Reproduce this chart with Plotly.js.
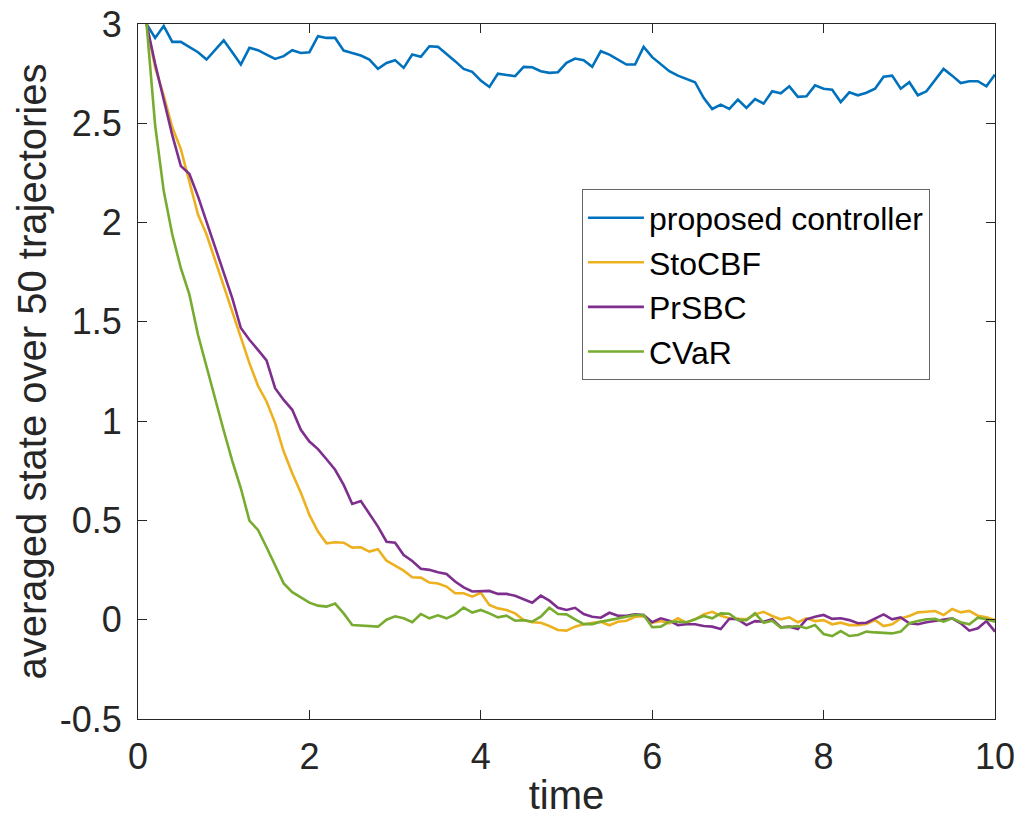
<!DOCTYPE html>
<html>
<head>
<meta charset="utf-8">
<script src="https://cdn.plot.ly/plotly-3.0.1.min.js"></script>
<style>html,body{margin:0;padding:0;background:#fff;}</style>
</head>
<body>
<div id="chart" style="width:1020px;height:817px;"></div>
<script>
// time samples 0.1 .. 10.0
const time = Array.from({length: 100}, (_, i) => Math.round((i + 1)) / 10);

const seriesNames = ["proposed controller", "StoCBF", "PrSBC", "CVaR"];

const proposed = [
  3.00, 2.93, 2.99, 2.91, 2.91, 2.885, 2.858, 2.821, 2.87, 2.918,
  2.858, 2.796, 2.88, 2.868, 2.846, 2.824, 2.838, 2.868, 2.854, 2.858,
  2.939, 2.93, 2.93, 2.866, 2.854, 2.841, 2.821, 2.774, 2.804, 2.818,
  2.779, 2.846, 2.835, 2.888, 2.885, 2.85, 2.813, 2.774, 2.759, 2.715,
  2.683, 2.75, 2.745, 2.737, 2.784, 2.782, 2.762, 2.754, 2.757, 2.804,
  2.826, 2.818, 2.784, 2.863, 2.846, 2.821, 2.796, 2.796, 2.885, 2.833,
  2.796, 2.762, 2.74, 2.725, 2.707, 2.628, 2.572, 2.594, 2.572, 2.619,
  2.577, 2.622, 2.599, 2.661, 2.651, 2.686, 2.633, 2.636, 2.691, 2.674,
  2.669, 2.607, 2.656, 2.641, 2.654, 2.674, 2.734, 2.74, 2.674, 2.707,
  2.641, 2.661, 2.716, 2.774, 2.74, 2.703, 2.712, 2.712, 2.686, 2.745
];

const stoCBF = [
  3.00, 2.78, 2.64, 2.48, 2.37, 2.20, 2.04, 1.94, 1.81, 1.68,
  1.555, 1.418, 1.292, 1.178, 1.099, 0.99, 0.847, 0.738, 0.64, 0.528,
  0.444, 0.385, 0.39, 0.388, 0.363, 0.365, 0.343, 0.355, 0.297, 0.272,
  0.247, 0.214, 0.212, 0.187, 0.182, 0.167, 0.133, 0.133, 0.116, 0.136,
  0.074, 0.057, 0.049, 0.032, -0.002, -0.013, -0.015, -0.032, -0.052, -0.055,
  -0.035, -0.023, -0.018, -0.01, -0.028, -0.01, -0.005, 0.015, 0.018, -0.015,
  -0.007, -0.018, 0.007, -0.015, 0.002, 0.027, 0.04, 0.02, 0.007, 0.005,
  0.002, 0.027, 0.04, 0.019, 0.002, 0.012, -0.013, 0.007, -0.007, -0.002,
  -0.023, -0.015, -0.027, -0.027, -0.022, -0.002, -0.032, -0.023, 0.007, 0.019,
  0.037, 0.04, 0.044, 0.024, 0.054, 0.037, 0.044, 0.02, 0.012, -0.002
];

const prSBC = [
  3.00, 2.80, 2.62, 2.44, 2.285, 2.245, 2.132, 2.006, 1.88, 1.746,
  1.62, 1.469, 1.41, 1.359, 1.306, 1.166, 1.107, 1.057, 0.956, 0.897,
  0.859, 0.808, 0.755, 0.679, 0.583, 0.598, 0.536, 0.469, 0.393, 0.388,
  0.326, 0.296, 0.257, 0.251, 0.239, 0.23, 0.192, 0.163, 0.142, 0.145,
  0.145, 0.13, 0.13, 0.121, 0.104, 0.086, 0.121, 0.096, 0.06, 0.049,
  0.06, 0.029, 0.015, 0.01, 0.035, 0.02, 0.02, 0.027, 0.024, -0.013,
  0.007, -0.005, -0.027, -0.023, -0.023, -0.032, -0.035, -0.047, 0.005, 0.002,
  -0.027, -0.007, -0.01, 0.002, -0.038, -0.035, -0.047, 0.002, 0.015, 0.024,
  0.004, 0.007, -0.002, -0.018, -0.015, 0.004, 0.027, 0.002, 0.012, -0.018,
  -0.023, -0.013, -0.007, -0.002, 0.007, -0.018, -0.055, -0.043, -0.007, -0.06
];

const cvar = [
  3.00, 2.49, 2.16, 1.94, 1.77, 1.637, 1.435, 1.27, 1.11, 0.953,
  0.80, 0.662, 0.499, 0.452, 0.365, 0.272, 0.183, 0.139, 0.113, 0.086,
  0.071, 0.066, 0.081, 0.032, -0.027, -0.029, -0.031, -0.035, 0.0, 0.017,
  0.007, -0.013, 0.029, 0.007, 0.022, 0.007, 0.027, 0.061, 0.036, 0.049,
  0.032, 0.012, 0.02, -0.005, -0.002, -0.01, 0.015, 0.06, 0.029, 0.027,
  0.002, -0.022, -0.022, -0.01, -0.002, 0.007, 0.015, 0.024, 0.024, -0.038,
  -0.035, -0.01, -0.01, -0.013, 0.002, 0.019, 0.007, 0.032, 0.03, -0.002,
  -0.002, 0.032, -0.015, -0.005, -0.04, -0.035, -0.032, -0.043, -0.027, -0.072,
  -0.082, -0.057, -0.082, -0.077, -0.06, -0.064, -0.065, -0.069, -0.06, -0.018,
  -0.007, 0.002, 0.004, -0.01, 0.007, -0.013, -0.023, 0.01, 0.002, -0.01
];

const xTickVals = [0, 2, 4, 6, 8, 10];
const xTickText = ["0", "2", "4", "6", "8", "10"];
const yTickVals = [-0.5, 0, 0.5, 1, 1.5, 2, 2.5, 3];
const yTickText = ["-0.5", "0", "0.5", "1", "1.5", "2", "2.5", "3"];

const colors = ["#0072BD", "#EDB120", "#7E2F8E", "#77AC30"];
const seriesValues = [proposed, stoCBF, prSBC, cvar];

const traces = seriesValues.map((vals, i) => ({
  x: time,
  y: vals,
  type: "scatter",
  mode: "lines",
  name: seriesNames[i],
  line: {color: colors[i], width: 2.6}
}));

const FONT = '"Liberation Sans", Arial, Helvetica, sans-serif';
const AX = "#262626";

const layout = {
  width: 1020,
  height: 817,
  margin: {l: 138, r: 25, t: 24, b: 98},
  paper_bgcolor: "#ffffff",
  plot_bgcolor: "#ffffff",
  font: {family: FONT, color: AX},
  showlegend: true,
  legend: {
    x: 0.518, y: 0.762, xanchor: "left", yanchor: "top",
    bgcolor: "#ffffff", bordercolor: "#666666", borderwidth: 1,
    font: {family: FONT, size: 32, color: "#000000"},
    itemwidth: 56
  },
  xaxis: {
    range: [0, 10],
    tickvals: xTickVals, ticktext: xTickText,
    ticks: "inside", ticklen: 9, tickwidth: 1, tickcolor: AX,
    showline: true, linecolor: AX, linewidth: 1, mirror: "ticks",
    showgrid: false, zeroline: false,
    tickfont: {family: FONT, size: 36, color: AX},
    ticklabelstandoff: 6,
    title: {text: "time", font: {family: FONT, size: 40, color: AX}, standoff: 16}
  },
  yaxis: {
    range: [-0.5, 3],
    tickvals: yTickVals, ticktext: yTickText,
    ticks: "inside", ticklen: 9, tickwidth: 1, tickcolor: AX,
    showline: true, linecolor: AX, linewidth: 1, mirror: "ticks",
    showgrid: false, zeroline: false,
    tickfont: {family: FONT, size: 36, color: AX},
    ticklabelstandoff: 8,
    title: {text: "averaged state over 50 trajectories", font: {family: FONT, size: 40, color: AX}, standoff: 0}
  }
};

Plotly.newPlot("chart", traces, layout, {displayModeBar: false, staticPlot: true});
</script>
</body>
</html>
